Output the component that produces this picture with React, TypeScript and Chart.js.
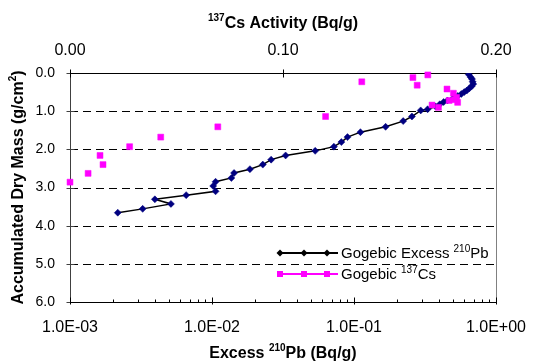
import React, { useEffect, useRef } from "react";
import { Chart, registerables } from "chart.js";

Chart.register(...registerables);

// Excess 210Pb profile: accumulated dry mass (g/cm2) and activity (Bq/g)
const PB_MASS = [
  0.04, 0.11, 0.16, 0.23, 0.29, 0.35, 0.4, 0.46, 0.5, 0.55, 0.6, 0.66, 0.72,
  0.76, 0.82, 0.88, 0.95, 0.98, 1.14, 1.26, 1.41, 1.55, 1.68, 1.81, 1.93, 2.04,
  2.16, 2.27, 2.4, 2.52, 2.62, 2.75, 2.85, 2.96, 3.1, 3.2, 3.31, 3.43, 3.56,
  3.66,
];
const PB_ACTIVITY = [
  0.643, 0.664, 0.678, 0.685, 0.692, 0.674, 0.65, 0.623, 0.598, 0.57, 0.538,
  0.5, 0.455, 0.428, 0.402, 0.376, 0.33, 0.295, 0.256, 0.222, 0.167, 0.111,
  0.09, 0.0815, 0.0722, 0.0533, 0.033, 0.0261, 0.0228, 0.0185, 0.0143, 0.0137,
  0.0106, 0.0102, 0.0106, 0.00658, 0.00396, 0.00514, 0.00325, 0.00217,
];

// 137Cs profile
const CS_MASS = [
  0.05, 0.12, 0.23, 0.32, 0.42, 0.53, 0.64, 0.7, 0.72, 0.77, 0.84, 0.9, 1.14,
  1.41, 1.68, 1.93, 2.16, 2.4, 2.63, 2.86,
];
const CS_ACTIVITY = [
  0.168, 0.161, 0.137, 0.163, 0.177, 0.18, 0.1815, 0.1806, 0.178, 0.182, 0.17,
  0.173, 0.12, 0.0694, 0.0426, 0.028, 0.0141, 0.0155, 0.0085, 0.0,
];

const Y_TICKS = [0, 1, 2, 3, 4, 5, 6];
const Y_LABELS = ["0.0", "1.0", "2.0", "3.0", "4.0", "5.0", "6.0"];
const PB_TICKS = [0.001, 0.01, 0.1, 1];
const PB_LABELS = ["1.0E-03", "1.0E-02", "1.0E-01", "1.0E+00"];
const CS_TICKS = [0, 0.1, 0.2];
const CS_LABELS = ["0.00", "0.10", "0.20"];

const FONT = "'Liberation Sans', Arial, sans-serif";
const PB_LINE = "#000000";
const PB_MARK = "#000080";
const CS_COLOR = "#FF00FF";

type Part = { t: string; sup?: boolean };

// Draws a run of text with superscript pieces, centred on (x, y)
function drawRich(
  ctx: CanvasRenderingContext2D,
  parts: Part[],
  x: number,
  y: number,
  size: number,
  bold: boolean,
  align: "center" | "left" = "center"
) {
  const w = bold ? "bold " : "";
  const supSize = Math.round(size * 0.64);
  const fontOf = (p: Part) => `${w}${p.sup ? supSize : size}px ${FONT}`;
  let total = 0;
  const widths = parts.map((p) => {
    ctx.font = fontOf(p);
    const m = ctx.measureText(p.t).width;
    total += m;
    return m;
  });
  let cx = align === "center" ? x - total / 2 : x;
  ctx.textAlign = "left";
  ctx.textBaseline = "alphabetic";
  const base = y + size * 0.36;
  parts.forEach((p, i) => {
    ctx.font = fontOf(p);
    ctx.fillText(p.t, cx, p.sup ? base - size * 0.42 : base);
    cx += widths[i];
  });
}

const decorPlugin = {
  id: "decor",
  beforeDatasetsDraw(chart: any) {
    const { ctx, chartArea: a, scales } = chart;
    const y = scales.y;
    const xb = scales.x;
    const xt = scales.x2;
    ctx.save();
    ctx.lineWidth = 1;

    // dashed horizontal gridlines
    ctx.strokeStyle = "#000";
    ctx.setLineDash([8, 5]);
    Y_TICKS.slice(1, -1).forEach((v) => {
      const py = Math.round(y.getPixelForValue(v)) + 0.5;
      ctx.beginPath();
      ctx.moveTo(a.left, py);
      ctx.lineTo(a.right, py);
      ctx.stroke();
    });
    ctx.setLineDash([]);

    const L = Math.round(a.left) + 0.5;
    const R = Math.round(a.right) + 0.5;
    const T = Math.round(a.top) + 0.5;
    const B = Math.round(a.bottom) + 0.5;

    // right frame edge
    ctx.strokeStyle = "#808080";
    ctx.beginPath();
    ctx.moveTo(R, T);
    ctx.lineTo(R, B);
    ctx.stroke();

    // left axis
    ctx.strokeStyle = "#404040";
    ctx.beginPath();
    ctx.moveTo(L, T);
    ctx.lineTo(L, B);
    ctx.stroke();
    Y_TICKS.forEach((v) => {
      const py = Math.round(y.getPixelForValue(v)) + 0.5;
      ctx.beginPath();
      ctx.moveTo(L - 4, py);
      ctx.lineTo(L + 4, py);
      ctx.stroke();
    });

    // top axis
    ctx.strokeStyle = "#000";
    ctx.beginPath();
    ctx.moveTo(L, T);
    ctx.lineTo(R, T);
    ctx.stroke();
    CS_TICKS.forEach((v) => {
      const px = Math.round(xt.getPixelForValue(v)) + 0.5;
      ctx.beginPath();
      ctx.moveTo(px, T - 4);
      ctx.lineTo(px, T + 4);
      ctx.stroke();
    });

    // bottom log axis with minor ticks
    ctx.beginPath();
    ctx.moveTo(L, B);
    ctx.lineTo(R, B);
    ctx.stroke();
    for (let d = 0.001; d < 1.5; d *= 10) {
      for (let k = 1; k <= 9; k++) {
        const v = d * k;
        if (v > 1.0001) break;
        const px = Math.round(xb.getPixelForValue(v)) + 0.5;
        ctx.beginPath();
        if (k === 1) {
          ctx.moveTo(px, B - 5);
          ctx.lineTo(px, B + 2);
        } else {
          ctx.moveTo(px, B - 3);
          ctx.lineTo(px, B);
        }
        ctx.stroke();
      }
    }
    ctx.restore();
  },
  afterDraw(chart: any) {
    const { ctx, chartArea: a } = chart;
    ctx.save();
    ctx.fillStyle = "#000";
    const cx = (a.left + a.right) / 2;

    // axis titles
    drawRich(ctx, [{ t: "137", sup: true }, { t: "Cs Activity (Bq/g)" }], cx, 22, 16, true);
    drawRich(ctx, [{ t: "Excess " }, { t: "210", sup: true }, { t: "Pb (Bq/g)" }], cx, 352, 16, true);
    ctx.save();
    ctx.translate(17, (a.top + a.bottom) / 2);
    ctx.rotate(-Math.PI / 2);
    drawRich(ctx, [{ t: "Accumulated Dry Mass (g/cm" }, { t: "2", sup: true }, { t: ")" }], 0, 0, 16, true);
    ctx.restore();

    // legend
    const rows = [
      { y: 253, color: PB_LINE, mark: PB_LINE, style: "diamond", parts: [{ t: "Gogebic Excess " }, { t: "210", sup: true }, { t: "Pb" }] },
      { y: 274, color: CS_COLOR, mark: CS_COLOR, style: "square", parts: [{ t: "Gogebic " }, { t: "137", sup: true }, { t: "Cs" }] },
    ];
    rows.forEach((r) => {
      ctx.strokeStyle = r.color;
      ctx.lineWidth = 2;
      ctx.beginPath();
      ctx.moveTo(279, r.y);
      ctx.lineTo(338, r.y);
      ctx.stroke();
      ctx.fillStyle = r.mark;
      [280, 304, 327].forEach((mx) => {
        ctx.beginPath();
        if (r.style === "diamond") {
          ctx.moveTo(mx - 3.5, r.y);
          ctx.lineTo(mx, r.y - 3.5);
          ctx.lineTo(mx + 3.5, r.y);
          ctx.lineTo(mx, r.y + 3.5);
          ctx.closePath();
        } else {
          ctx.rect(mx - 3, r.y - 3, 6, 6);
        }
        ctx.fill();
      });
      ctx.fillStyle = "#000";
      drawRich(ctx, r.parts, 341, r.y, 15, false, "left");
    });
    ctx.restore();
  },
};

export default function App() {
  const ref = useRef<HTMLCanvasElement | null>(null);

  useEffect(() => {
    if (!ref.current) return;
    const pb = PB_MASS.map((m, i) => ({ x: PB_ACTIVITY[i], y: m }));
    const cs = CS_MASS.map((m, i) => ({ x: CS_ACTIVITY[i], y: m }));
    const tickFont = { family: FONT, size: 16 };

    const chart = new Chart(ref.current, {
      type: "scatter",
      data: {
        datasets: [
          {
            label: "Gogebic Excess 210Pb",
            data: pb,
            xAxisID: "x",
            yAxisID: "y",
            showLine: true,
            borderColor: PB_LINE,
            borderWidth: 1.5,
            pointStyle: "rectRot",
            pointRadius: 3.5,
            pointBackgroundColor: PB_MARK,
            pointBorderColor: PB_MARK,
            pointBorderWidth: 0.5,
            order: 1,
          },
          {
            label: "Gogebic 137Cs",
            data: cs,
            xAxisID: "x2",
            yAxisID: "y",
            showLine: false,
            pointStyle: "rect",
            pointRadius: 4.2,
            pointBackgroundColor: CS_COLOR,
            pointBorderColor: CS_COLOR,
            pointBorderWidth: 0.5,
            clip: false,
            order: 0,
          } as any,
        ],
      },
      options: {
        animation: false,
        responsive: false,
        layout: { padding: { right: 32, top: 0, left: 0, bottom: 0 } },
        plugins: { legend: { display: false }, tooltip: { enabled: false } },
        scales: {
          x: {
            type: "logarithmic",
            position: "bottom",
            min: 0.001,
            max: 1,
            grid: { display: false, drawTicks: false },
            border: { display: false },
            afterBuildTicks: (s: any) => {
              s.ticks = PB_TICKS.map((v) => ({ value: v }));
            },
            afterFit: (s: any) => {
              s.height = 62;
            },
            ticks: {
              font: tickFont,
              color: "#000",
              padding: 16,
              maxRotation: 0,
              autoSkip: false,
              callback: (_v: any, i: number) => PB_LABELS[i],
            },
          },
          x2: {
            type: "linear",
            position: "top",
            min: 0,
            max: 0.2,
            grid: { display: false, drawTicks: false },
            border: { display: false },
            afterBuildTicks: (s: any) => {
              s.ticks = CS_TICKS.map((v) => ({ value: v }));
            },
            afterFit: (s: any) => {
              s.height = 73;
            },
            ticks: {
              font: tickFont,
              color: "#000",
              padding: 13,
              maxRotation: 0,
              autoSkip: false,
              callback: (_v: any, i: number) => CS_LABELS[i],
            },
          },
          y: {
            type: "linear",
            reverse: true,
            min: 0,
            max: 6,
            grid: { display: false, drawTicks: false },
            border: { display: false },
            afterBuildTicks: (s: any) => {
              s.ticks = Y_TICKS.map((v) => ({ value: v }));
            },
            afterFit: (s: any) => {
              s.width = 70;
            },
            ticks: {
              font: { family: FONT, size: 14 },
              color: "#000",
              padding: 15,
              autoSkip: false,
              callback: (_v: any, i: number) => Y_LABELS[i],
            },
          },
        },
      },
      plugins: [decorPlugin],
    } as any);

    return () => chart.destroy();
  }, []);

  return (
    <div style={{ position: "absolute", left: 0, top: 0, width: 542, height: 364, background: "#fff" }}>
      <canvas ref={ref} width={542} height={364} style={{ display: "block" }} />
    </div>
  );
}
